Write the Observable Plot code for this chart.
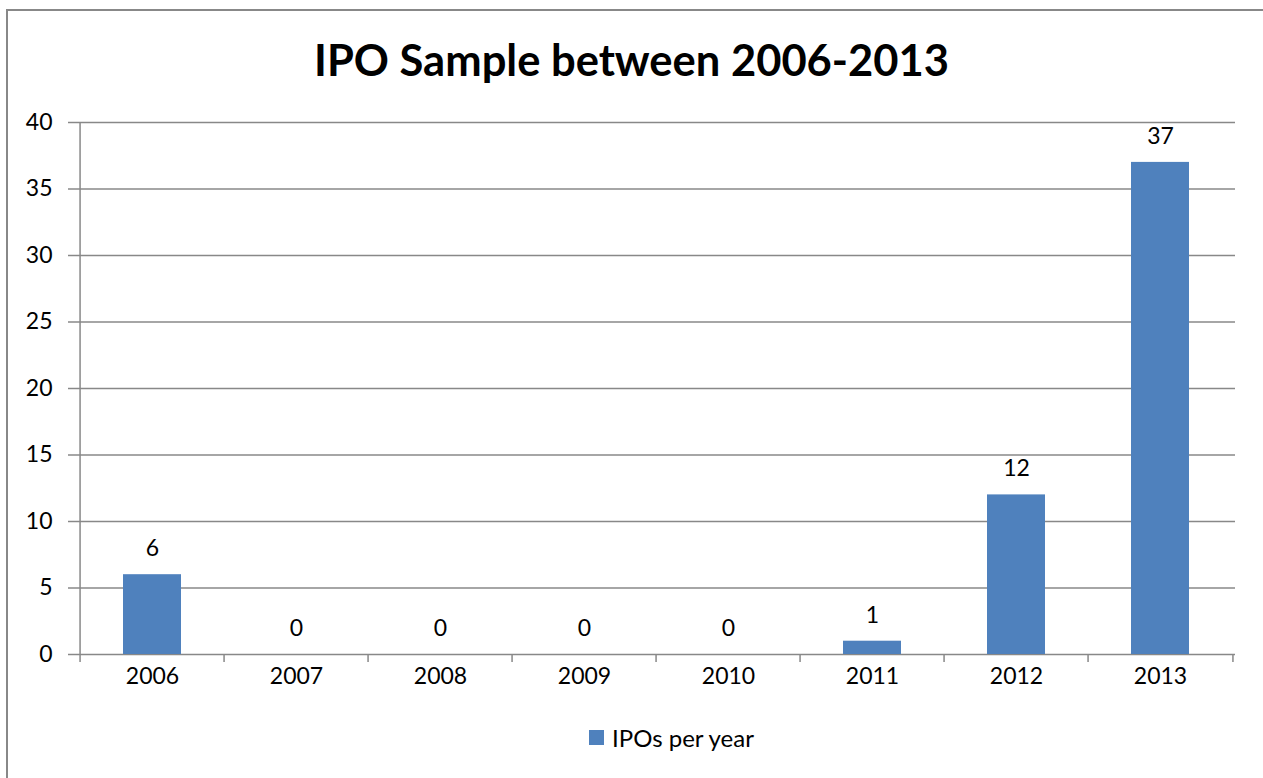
<!DOCTYPE html>
<html>
<head>
<meta charset="utf-8">
<script src="https://cdn.jsdelivr.net/npm/d3@7"></script>
<script src="https://cdn.jsdelivr.net/npm/@observablehq/plot@0.6"></script>
<style>
  html, body { margin: 0; padding: 0; background: #fff; }
  #wrap { position: relative; width: 1263px; height: 778px; overflow: hidden; font-family: Lato, "Open Sans", sans-serif; }
  #border { position: absolute; left: 6px; top: 9px; width: 1270px; height: 780px; border: 2px solid #888; box-sizing: border-box; }
  #title { position: absolute; left: 0; width: 1263px; top: 33px; text-align: center; font-size: 43.5px; font-weight: bold; color: #000; }
  #chart { position: absolute; left: 0; top: 0; }
  #legend { position: absolute; left: 589px; top: 723px; font-size: 24px; color: #000; display: flex; align-items: center; }
  #legend .sw { width: 15px; height: 15px; background: #4F81BD; margin-right: 8px; }
</style>
</head>
<body>
<div id="wrap">
  <div id="border"></div>
  <div id="chart"></div>
  <div id="title">IPO Sample between 2006-2013</div>
  <div id="legend"><span class="sw"></span><span>IPOs per year</span></div>
</div>
<script>
const years = ["2006", "2007", "2008", "2009", "2010", "2011", "2012", "2013"];
const ipos = [6, 0, 0, 0, 0, 1, 12, 37];
const yTicks = [0, 5, 10, 15, 20, 25, 30, 35, 40];
const seriesName = "IPOs per year";

const data = years.map((y, i) => ({year: y, value: ipos[i]}));

const W = 1263, H = 778;
const mL = 76, mR = 28, mT = 122, mB = 124;
const step = (W - mL - mR) / years.length;
const grid = "#888";
const fs = 23;

const chart = Plot.plot({
  width: W,
  height: H,
  marginLeft: mL,
  marginRight: mR,
  marginTop: mT,
  marginBottom: mB,
  style: {fontFamily: "Lato, 'Open Sans', sans-serif", fontSize: fs + "px", color: "#000", background: "transparent", overflow: "visible"},
  x: {domain: years, paddingInner: 0.6, paddingOuter: 0.3, label: null},
  y: {domain: [0, 40], label: null},
  marks: [
    Plot.ruleY(yTicks, {stroke: grid, strokeWidth: 1.5}),
    Plot.axisY({ticks: yTicks, tickSize: 8, tickPadding: 16, stroke: grid, strokeWidth: 1.5, strokeOpacity: 1, fill: "#000", fontSize: fs, label: null}),
    Plot.barY(data, {x: "year", y: "value", fill: "#4F81BD"}),
    Plot.text(data, {x: "year", y: "value", text: d => String(d.value), dy: -26, fontSize: fs, fill: "#000"}),
    Plot.axisX({tickSize: 8, tickFormat: () => "", dx: -step / 2, stroke: grid, strokeWidth: 1.5, strokeOpacity: 1, label: null}),
    Plot.axisX({ticks: [years[years.length - 1]], tickSize: 8, tickFormat: () => "", dx: step / 2, stroke: grid, strokeWidth: 1.5, strokeOpacity: 1, label: null}),
    Plot.axisX({tickSize: 0, tickPadding: 13, fontSize: fs, fill: "#000", label: null}),
    Plot.ruleX([0], {x: () => years[0], dx: -step / 2, y1: 0, y2: 40, stroke: grid, strokeWidth: 1.5})
  ]
});
document.getElementById("chart").appendChild(chart);
</script>
</body>
</html>
